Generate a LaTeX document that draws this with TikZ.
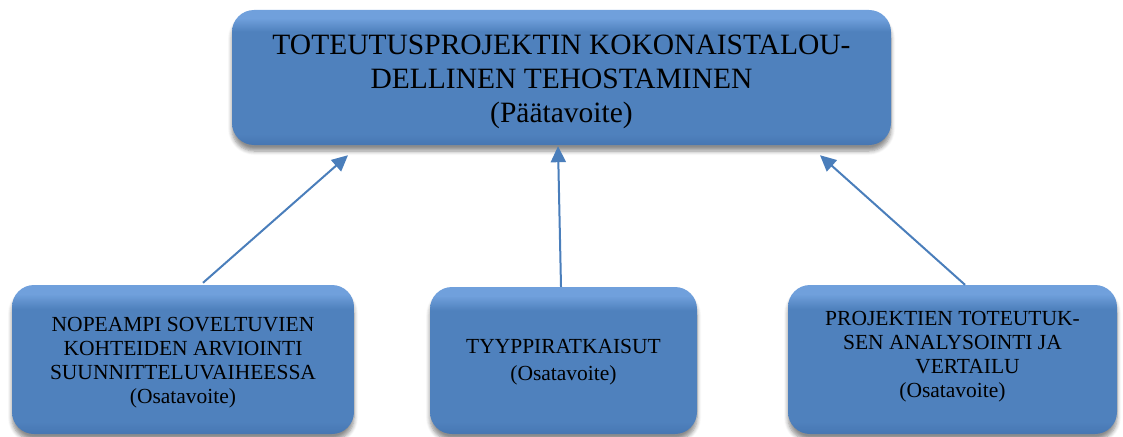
\documentclass[tikz,border=0pt]{standalone}
\usepackage{fontspec}
\setmainfont{Liberation Serif}
\usetikzlibrary{arrows.meta,shadows.blur,calc}

\definecolor{boxmain}{RGB}{79,129,189}
\definecolor{boxlight}{RGB}{112,160,220}
\definecolor{boxdark}{RGB}{70,118,178}
\definecolor{arrowblue}{RGB}{74,126,187}

% glossy vertical shading of the boxes (bottom to top; the box covers 25bp--75bp)
\pgfdeclareverticalshading{boxgloss}{100bp}{%
  color(0bp)=(boxdark); color(25bp)=(boxdark); color(29bp)=(boxmain);
  color(67bp)=(boxmain); color(72bp)=(boxlight); color(100bp)=(boxlight)}

\tikzset{
  goalbox/.style={rounded corners=22pt, shading=boxgloss, draw=none,
    align=center, inner sep=0pt,
    blur shadow={shadow xshift=0pt, shadow yshift=-6pt, shadow blur steps=6,
      shadow blur radius=4pt, shadow opacity=45}},
  maintext/.style={font=\fontsize{29.5}{34}\selectfont},
  subtext/.style={font=\fontsize{21.5}{24}\selectfont},
  goalarrow/.style={draw=arrowblue, line width=2pt,
    -{Triangle[length=16pt,width=15pt]}},
}

\begin{document}
\begin{tikzpicture}[x=1pt,y=-1pt]
\useasboundingbox (0,0) rectangle (1123,436);

\node[goalbox, minimum width=659pt, minimum height=135pt]
  (top) at (561.5,77.5) {};
\node[maintext, align=center] (toptext) at ([yshift=-4pt]top.center)
  {TOTEUTUSPROJEKTIN KOKONAISTALOU-\\DELLINEN TEHOSTAMINEN\\(Päätavoite)};

\node[goalbox, minimum width=342pt, minimum height=149pt]
  (left) at (183,359.5) {};
\node[subtext, align=center] (lefttext) at ([yshift=-3pt]left.center)
  {NOPEAMPI SOVELTUVIEN\\KOHTEIDEN ARVIOINTI\\SUUNNITTELUVAIHEESSA\\(Osatavoite)};

\node[goalbox, minimum width=267pt, minimum height=147pt]
  (mid) at (563.5,360.5) {};
\node[subtext, align=center, font=\fontsize{21.5}{27}\selectfont]
  (midtext) at ([yshift=-2pt]mid.center)
  {TYYPPIRATKAISUT\\(Osatavoite)};

\node[goalbox, minimum width=329pt, minimum height=149pt]
  (right) at (952.5,359.5) {};
\node[subtext, align=center] (righttext) at ([yshift=3pt]right.center)
  {PROJEKTIEN TOTEUTUK-\\SEN ANALYSOINTI JA\\\hspace*{30pt}VERTAILU\\(Osatavoite)};

\draw[goalarrow] ([xshift=20pt,yshift=2pt]left.north)
  -- ([xshift=-213.5pt,yshift=-10pt]top.south);
\draw[goalarrow] ([xshift=-2.5pt]mid.north)
  -- ([xshift=-3.5pt,yshift=-1pt]top.south);
\draw[goalarrow] ([xshift=12.5pt]right.north)
  -- ([xshift=258.5pt,yshift=-10pt]top.south);
\end{tikzpicture}
\end{document}
